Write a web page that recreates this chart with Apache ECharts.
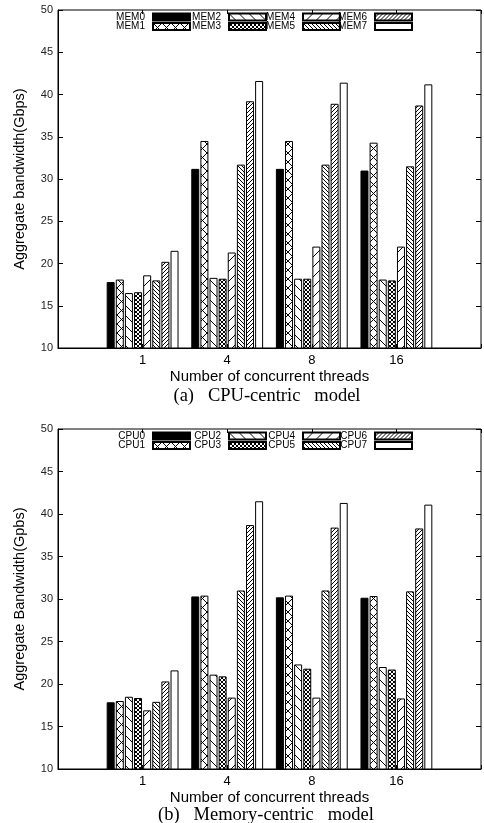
<!DOCTYPE html>
<html><head><meta charset="utf-8">
<script src="https://cdn.jsdelivr.net/npm/echarts@6/dist/echarts.min.js"></script>
<style>html,body{margin:0;padding:0;background:#fff}#c{width:484px;height:823px}</style>
</head><body><div id="c"></div>
<script>
// ---- data ----
const categories = ['', '1', '4', '8', '16', ''];
const memNames = ['MEM0','MEM1','MEM2','MEM3','MEM4','MEM5','MEM6','MEM7'];
const cpuNames = ['CPU0','CPU1','CPU2','CPU3','CPU4','CPU5','CPU6','CPU7'];
// values per series, for threads 1, 4, 8, 16
const MEM0 = [17.8, 31.2, 31.2, 31.0];
const MEM1 = [18.1, 34.5, 34.5, 34.3];
const MEM2 = [16.5, 18.3, 18.2, 18.1];
const MEM3 = [16.6, 18.2, 18.2, 18.0];
const MEM4 = [18.6, 21.3, 22.0, 22.0];
const MEM5 = [18.0, 31.7, 31.7, 31.5];
const MEM6 = [20.2, 39.2, 38.9, 38.7];
const MEM7 = [21.5, 41.6, 41.4, 41.2];
const CPU0 = [17.85, 30.3, 30.2, 30.15];
const CPU1 = [18.0, 30.4, 30.4, 30.35];
const CPU2 = [18.5, 21.1, 22.3, 22.0];
const CPU3 = [18.35, 20.9, 21.8, 21.7];
const CPU4 = [16.9, 18.4, 18.4, 18.3];
const CPU5 = [17.9, 31.0, 31.0, 30.9];
const CPU6 = [20.3, 38.7, 38.4, 38.3];
const CPU7 = [21.6, 41.5, 41.3, 41.1];
const yTicks = [10, 15, 20, 25, 30, 35, 40, 45, 50];
const memData = [MEM0, MEM1, MEM2, MEM3, MEM4, MEM5, MEM6, MEM7];
const cpuData = [CPU0, CPU1, CPU2, CPU3, CPU4, CPU5, CPU6, CPU7];

// ---- patterns ----
function tile(size, draw, lw) {
  const c = document.createElement('canvas');
  c.width = c.height = size;
  const ctx = c.getContext('2d');
  ctx.fillStyle = '#fff'; ctx.fillRect(0, 0, size, size);
  ctx.strokeStyle = '#000'; ctx.lineWidth = lw || 1;
  ctx.beginPath(); draw(ctx, size); ctx.stroke();
  return { image: c, repeat: 'repeat' };
}
function fwd(ctx, s) { for (const o of [-s, 0, s]) { ctx.moveTo(o, s); ctx.lineTo(o + s, 0); } }
function back(ctx, s) { for (const o of [-s, 0, s]) { ctx.moveTo(o, 0); ctx.lineTo(o + s, s); } }
function cross(ctx, s) { fwd(ctx, s); back(ctx, s); }
const fills = [
  '#000',
  tile(9, cross, 1),
  tile(10, back, 1),
  tile(4, cross, 1),
  tile(10, fwd, 1),
  tile(4, back, 1),
  tile(4, fwd, 1),
  '#fff'
];

const legendRight = [293, 217, 143, 71]; // icon right edges 191,267,341,413

function buildSeries(names, data, gi) {
  return names.map((n, i) => ({
    name: n, type: 'bar',
    xAxisIndex: gi * 2, yAxisIndex: gi * 2,
    data: [null].concat(data[i]).concat([null]),
    barWidth: 8, barGap: '14%',
    itemStyle: { color: fills[i], borderColor: '#000', borderWidth: 1 },
    emphasis: { disabled: true }, animation: false
  }));
}
function buildLegends(names, top0) {
  const arr = [];
  names.forEach((n, i) => {
    const col = Math.floor(i / 2), row = i % 2;
    arr.push({
      data: [n], right: legendRight[col], top: top0 + row * 9.5,
      align: 'right', orient: 'horizontal', padding: 0,
      itemWidth: 37, itemHeight: 7, itemGap: 0, selectedMode: false,
      icon: 'rect',
      textStyle: { fontFamily: 'Liberation Sans', fontSize: 10, color: '#000', padding: [0, 3, 0, 0] }
    });
  });
  return arr;
}

const gridDefs = [{ top: 10, height: 338 }, { top: 429, height: 340 }];
const yNames = ['Aggregate bandwidth(Gbps)', 'Aggregate Bandwidth(Gpbs)'];
const xAxes = [], yAxes = [];
gridDefs.forEach((g, gi) => {
  xAxes.push({
    gridIndex: gi, type: 'category', data: categories, boundaryGap: false,
    axisLine: { show: true, lineStyle: { color: '#000', width: 1 } },
    axisTick: { inside: true, length: 4, lineStyle: { color: '#000' } },
    axisLabel: { fontFamily: 'Liberation Sans', fontSize: 13, color: '#000', margin: 6 },
    name: 'Number of concurrent threads', nameLocation: 'middle', nameGap: 21,
    nameTextStyle: { fontFamily: 'Liberation Sans', fontSize: 15, color: '#000' }
  });
  xAxes.push({
    gridIndex: gi, type: 'category', data: categories, boundaryGap: false, position: 'top',
    axisLine: { show: false },
    axisTick: { inside: true, length: 4, lineStyle: { color: '#000' } },
    axisLabel: { show: false }
  });
  yAxes.push({
    gridIndex: gi, type: 'value', min: yTicks[0], max: yTicks[yTicks.length - 1], interval: 5,
    axisLine: { show: true, lineStyle: { color: '#000', width: 1 } },
    axisTick: { show: true, inside: true, length: 5, lineStyle: { color: '#000' } },
    axisLabel: { fontFamily: 'Liberation Sans', fontSize: 11, color: '#222', margin: 5 },
    splitLine: { show: false },
    name: yNames[gi], nameLocation: 'middle', nameGap: 31,
    nameTextStyle: { fontFamily: 'Liberation Sans', fontSize: 14.5, color: '#000' }
  });
  yAxes.push({
    gridIndex: gi, type: 'value', min: yTicks[0], max: yTicks[yTicks.length - 1], interval: 5, position: 'right',
    axisLine: { show: false },
    axisTick: { show: true, inside: true, length: 5, lineStyle: { color: '#000' } },
    axisLabel: { show: false }, splitLine: { show: false }
  });
});

const option = {
  backgroundColor: '#fff',
  animation: false,
  title: [
    { text: '(a)   CPU-centric   model', left: 262, top: 382, textAlign: 'center',
      textStyle: { fontFamily: 'Liberation Serif', fontSize: 18.5, fontWeight: 'normal', color: '#000' } },
    { text: '(b)   Memory-centric   model', left: 261, top: 801, textAlign: 'center',
      textStyle: { fontFamily: 'Liberation Serif', fontSize: 18.5, fontWeight: 'normal', color: '#000' } }
  ],
  grid: gridDefs.map(g => ({ left: 58, right: 2, top: g.top, height: g.height, show: true, borderColor: '#000', borderWidth: 1, backgroundColor: 'transparent' })),
  legend: buildLegends(memNames, 12).concat(buildLegends(cpuNames, 431)),
  xAxis: xAxes,
  yAxis: yAxes,
  series: buildSeries(memNames, memData, 0).concat(buildSeries(cpuNames, cpuData, 1))
};
const chart = echarts.init(document.getElementById('c'), null, { renderer: 'canvas' });
chart.setOption(option);
</script>
</body></html>
